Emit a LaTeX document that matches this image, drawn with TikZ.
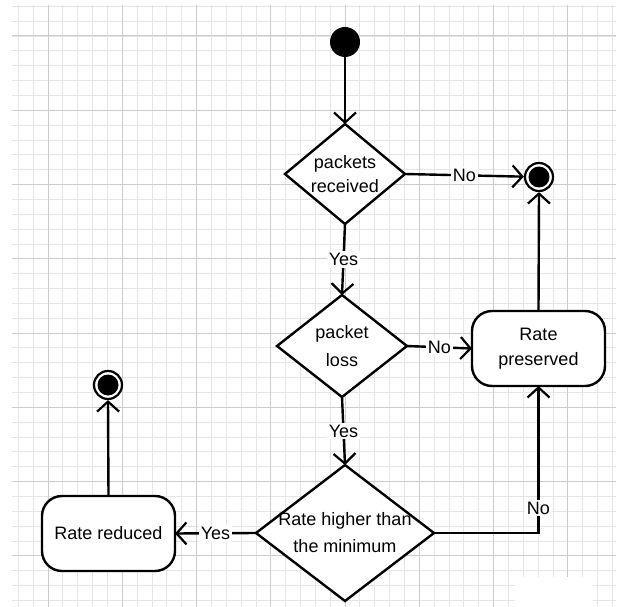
\documentclass[tikz,border=0pt]{standalone}
\usepackage{fontspec}
\setmainfont{Liberation Sans}
\usetikzlibrary{shapes.geometric,arrows.meta}
\begin{document}
\begin{tikzpicture}[x=1pt,y=-1pt,
  font=\fontsize{18}{22}\selectfont,
  ln/.style={line width=2.4pt,black},
  arr/.style={ln,-{Straight Barb[length=10pt,width=22pt,line width=2.2pt]}},
  dia/.style={diamond,draw,line width=2.4pt,fill=white,inner sep=0pt,outer sep=0pt},
  act/.style={rectangle,draw,line width=2.4pt,fill=white,rounded corners=20pt,minimum width=133pt,minimum height=75pt,inner sep=0pt,outer sep=0pt,align=center},
  lbl/.style={fill=white,inner sep=2pt},
  gminor/.style={draw=black!10,line width=0.8pt},
  gmajor/.style={draw=black!20,line width=1pt}]
\useasboundingbox (0,0) rectangle (619,607);
\fill[white] (0,0) rectangle (619,607);
% grid
\begin{scope}
\clip (12,6) rectangle (616,607);
\foreach \k in {-3,...,38} {
  \pgfmathsetmacro{\xx}{48+14.85*\k}
  \draw[gminor] (\xx,0) -- (\xx,607);
}
\foreach \k in {-2,...,39} {
  \pgfmathsetmacro{\yy}{36+14.85*\k}
  \draw[gminor] (0,\yy) -- (619,\yy);
}
\foreach \k in {-1,0,...,7} {
  \pgfmathsetmacro{\xx}{48+74.25*\k}
  \draw[gmajor] (\xx,0) -- (\xx,607);
  \pgfmathsetmacro{\yy}{36+74.25*\k}
  \draw[gmajor] (0,\yy) -- (619,\yy);
}
\end{scope}
\fill[white] (515,577) rectangle (593,607);
% nodes
\node[circle,fill=black,minimum size=30pt,inner sep=0pt] (start) at (345,42) {};
\node[dia,minimum width=120pt,minimum height=100pt,
  label={[align=center,font=\fontsize{18}{24}\selectfont]center:packets\\received}] (d1) at (345,174) {};
\node[circle,draw,line width=2.2pt,minimum size=28pt,inner sep=0pt,fill=white] (end1) at (539,177) {};
\fill (end1.center) circle (10.5pt);
\node[dia,minimum width=130pt,minimum height=102pt,
  label={[align=center,font=\fontsize{18}{28}\selectfont]center:packet\\loss}] (d2) at (342,346) {};
\node[act,font=\fontsize{18}{25}\selectfont] (rp) at (538.5,348.5) {Rate\\preserved};
\node[dia,minimum width=178pt,minimum height=136pt,
  label={[align=center,font=\fontsize{18}{27}\selectfont]center:Rate higher than\\the minimum}] (d3) at (345,533) {};
\node[act] (rr) at (108.5,533.5) {Rate reduced};
\node[circle,draw,line width=2.2pt,minimum size=28pt,inner sep=0pt,fill=white] (end2) at (108,385) {};
\fill (end2.center) circle (10.5pt);
% connectors
\draw[arr] (start) -- (d1.north);
\draw[arr] (d1.east) -- node[lbl]{No} (end1);
\draw[arr] (d1.south) -- node[lbl]{Yes} (d2.north);
\draw[arr] (d2.east) -- node[lbl]{No} (rp.west);
\draw[arr] (d2.south) -- node[lbl]{Yes} (d3.north);
\draw[arr] (d3.west) -- node[lbl]{Yes} (rr.east);
\draw[arr] (d3.east) -| node[lbl,pos=0.585]{No} (rp.south);
\draw[arr] (rp.north) -- (end1.south);
\draw[arr] (rr.north) -- (end2.south);
\end{tikzpicture}
\end{document}
